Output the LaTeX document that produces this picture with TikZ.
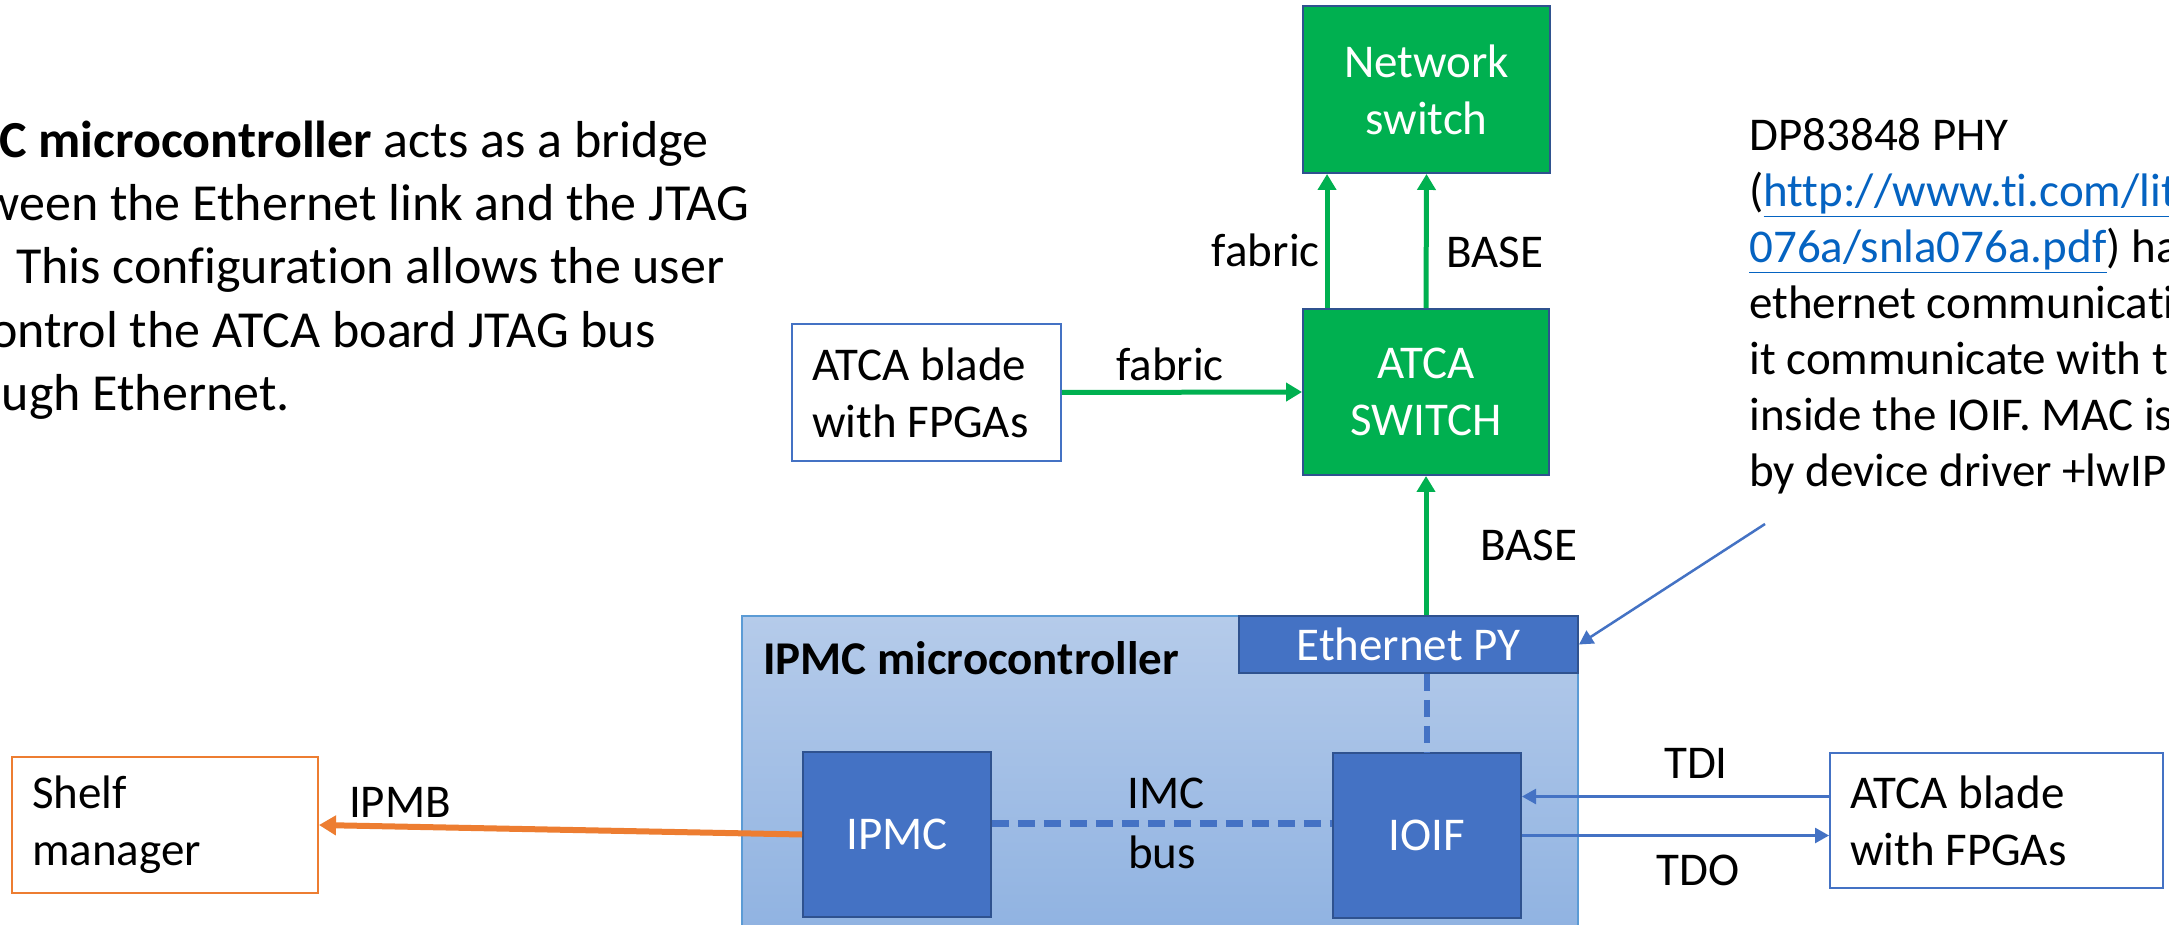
\documentclass[tikz,border=0pt]{standalone}
\usepackage{fontspec}
\setmainfont{Carlito}[Ligatures=NoCommon]
\usetikzlibrary{arrows.meta,calc}

\definecolor{ppgreen}{RGB}{0,176,80}
\definecolor{ppblue}{RGB}{68,114,196}
\definecolor{ppdark}{RGB}{47,82,143}
\definecolor{pporange}{RGB}{237,125,49}
\definecolor{pplink}{RGB}{5,99,193}
\definecolor{mcutop}{RGB}{181,203,234}
\definecolor{mcubot}{RGB}{143,178,225}
\definecolor{mculine}{RGB}{91,155,213}

\tikzset{
  txt/.style={font=\fontsize{26.75pt}{32.4pt}\selectfont, inner sep=0pt},
  greenbox/.style={txt, draw=ppdark, line width=0.04cm, fill=ppgreen, text=white, align=center},
  bluebox/.style={txt, draw=ppdark, line width=0.04cm, fill=ppblue, text=white, align=center},
  outbox/.style={txt, line width=0.04cm, fill=white, align=flush left, inner xsep=0.4cm},
  fab/.style={ppgreen, line width=0.1cm, -{Triangle[length=0.32cm,width=0.36cm]}},
  ipmb/.style={pporange, line width=0.12cm, -{Triangle[length=0.34cm,width=0.38cm]}},
  jtag/.style={ppblue, line width=0.05cm, -{Triangle[length=0.28cm,width=0.3cm]}},
  bus/.style={ppblue, line width=0.13cm, dash pattern=on 0.34cm off 0.18cm}
}

\begin{document}
\begin{tikzpicture}[x=0.02cm, y=-0.02cm]
        \useasboundingbox (0,0) rectangle (2169,925);
        \fill[white] (0,0) rectangle (2169,925);
        \clip (0,0) rectangle (2169,925);

        % text on the left and on the right
        \node[anchor=north west, inner sep=0pt, align=flush left, font=\fontsize{29.6pt}{35.9pt}\selectfont] (intro) at (-88,121)
            {\textbf{IPMC microcontroller} acts as a bridge\\
             between the Ethernet link and the JTAG\\
             bus. This configuration allows the user\\
             to control the ATCA board JTAG bus\\
             through Ethernet.};
        \node[txt, anchor=north west, align=flush left, font=\fontsize{26.75pt}{31.9pt}\selectfont] (phynote) at (1749,118)
            {DP83848 PHY\\
             (\textcolor{pplink}{\underline{http://www.ti.com/lit/an/snla}}\\
             \textcolor{pplink}{\underline{076a/snla076a.pdf}}) has the\\
             ethernet communication,\\
             it communicate with the MAC\\
             inside the IOIF. MAC is handled\\
             by device driver +lwIP};

        % switches
        \node[greenbox, minimum width=4.94cm, minimum height=3.34cm] (netsw) at (1426.5,89.5) {Network\\switch}; %netsw
        \node[greenbox, minimum width=4.92cm, minimum height=3.32cm] (atcasw) at (1426,392) {ATCA\\SWITCH}; %atcasw
        \node[outbox, draw=ppblue, text width=4.58cm, minimum height=2.74cm] (bladeL) at (926.5,392.5) {ATCA blade\\with FPGAs}; %blade

        % IPMC microcontroller
        \node[draw=mculine, line width=0.03cm, top color=mcutop, bottom color=mcubot, minimum width=16.72cm, minimum height=6.48cm, inner sep=0pt] (mcu) at (1160,778) {};
        \node[txt, anchor=west, font=\fontsize{26.75pt}{32.4pt}\selectfont\bfseries] (mcutitle) at (763,658) {IPMC microcontroller};
        \node[bluebox, minimum width=6.78cm, minimum height=1.14cm] (ethpy) at (1408.5,644.5) {Ethernet PY}; %ethpy
        \node[bluebox, minimum width=3.76cm, minimum height=3.3cm] (ipmc) at (897,834.5) {IPMC}; %ipmc
        \node[bluebox, minimum width=3.76cm, minimum height=3.3cm] (ioif) at (1427,835.5) {IOIF}; %ioif

        \node[outbox, draw=pporange, text width=5.32cm, minimum height=2.72cm] (shelf) at (165,825) {Shelf\\manager}; %shelf
        \node[outbox, draw=ppblue, text width=5.86cm, minimum height=2.7cm] (bladeR) at (1996.5,820.5) {ATCA blade\\with FPGAs}; %blade

        % links
        \draw[fab] (bladeL.east) -- (atcasw.west);
        \draw[fab] ($(atcasw.north west)+(25,0)$) coordinate (fu) -- (fu |- netsw.south);
        \draw[fab] (atcasw.north) -- (netsw.south);
        \draw[fab] (ethpy.north -| atcasw.south) -- (atcasw.south);
        \draw[bus] (ethpy.south -| ioif.north) -- (ioif.north);
        \draw[bus] ($(ipmc.east)+(0,-11)$) coordinate (ib) -- (ib -| ioif.west);
        \draw[ipmb] (ipmc.west) -- (shelf.east);
        \draw[jtag] ($(bladeR.west)+(0,-24)$) coordinate (ti) -- (ti -| ioif.east);
        \draw[jtag] (ioif.east) -- (ioif.east -| bladeR.west);
        \coordinate (note) at (1765,524);
        \draw[jtag] (note) -- (ethpy.east);

        \node[txt] (fabL) at (1170,364) {fabric};
        \node[txt, anchor=east] (fabU) at (1320,250) {fabric};
        \node[txt, anchor=west] (baseU) at (1446,252) {BASE};
        \node[txt, anchor=west] (baseD) at (1480,545) {BASE};
        \node[txt] (imc) at (1166,793) {IMC};
        \node[txt] (busl) at (1162,852) {bus};
        \node[txt] (ipmbl) at (400,802) {IPMB};
        \node[txt] (tdi) at (1696,763) {TDI};
        \node[txt] (tdo) at (1698,870) {TDO};
\end{tikzpicture}
\end{document}
